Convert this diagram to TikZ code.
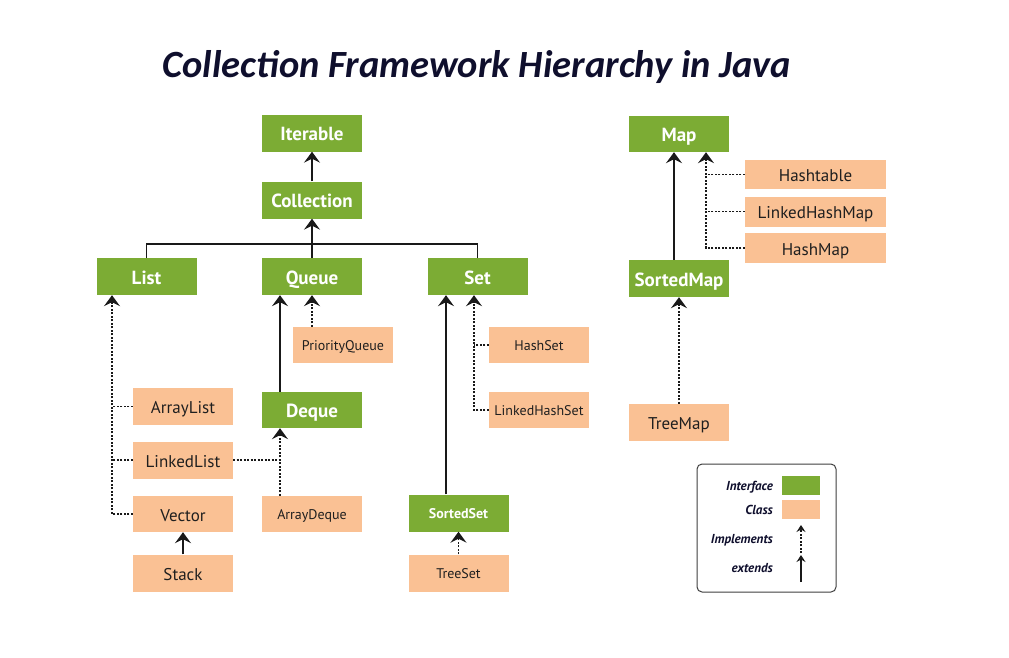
\documentclass[tikz,border=0pt]{standalone}
\usepackage{fontspec}
\setmainfont{PT Sans}
\newfontfamily\titlefont{Carlito}
\usetikzlibrary{arrows.meta}
\definecolor{igreen}{RGB}{124,172,52}
\definecolor{corange}{RGB}{250,193,148}
\definecolor{navy}{RGB}{15,15,45}
\definecolor{arrowc}{RGB}{25,25,25}
\begin{document}
\begin{tikzpicture}[x=1pt,y=-1pt,
 box/.style={minimum width=100pt, minimum height=37pt, inner sep=0pt},
 gbox/.style={box, fill=igreen, text=white, font=\bfseries\fontsize{19}{22}\selectfont, text height=19pt, text depth=3.6pt},
 obox/.style={box, fill=corange, text=black!88, font=\fontsize{17}{20}\selectfont, text height=17.5pt, text depth=3.3pt},
 small/.style={font=\fontsize{14}{16}\selectfont, text height=14.5pt, text depth=2.7pt},
 gsmall/.style={font=\bfseries\fontsize{14}{16}\selectfont, text height=14.5pt, text depth=2.7pt},
 ext/.style={line width=1.6pt, draw=arrowc, -{Stealth[length=11pt,width=16pt,inset=4pt]}},
 impl/.style={ext, dash pattern=on 2pt off 1.5pt},
 dotline/.style={line width=1.6pt, draw=arrowc, dash pattern=on 2pt off 1.5pt},
 solidline/.style={line width=1.6pt, draw=arrowc},
 lext/.style={line width=1.4pt, draw=arrowc, -{Stealth[length=7pt,width=9pt,inset=2.5pt]}},
 limpl/.style={lext, dash pattern=on 2pt off 1.5pt},
 leg/.style={font=\bfseries\itshape\fontsize{13}{15}\selectfont, text=navy, anchor=east, inner sep=0pt}]
\fill[white] (0,0) rectangle (1009,657);
\useasboundingbox (0,0) rectangle (1009,657);

\node[font=\titlefont\bfseries\itshape\fontsize{38.5}{44}\selectfont, text=navy] (title) at (477,67) {Collection Framework Hierarchy in Java};

% interfaces
\node[gbox] (iter) at (312,133) {Iterable};
\node[gbox] (coll) at (312,200) {Collection};
\node[gbox] (list) at (146.5,276.5) {List};
\node[gbox] (queue) at (312,276.5) {Queue};
\node[gbox] (set) at (477.5,276.5) {Set};
\node[gbox, minimum height=36pt] (deque) at (312,410) {Deque};
\node[gbox, gsmall] (sset) at (458.5,513) {SortedSet};
\node[gbox, minimum height=36pt] (map) at (679,134) {Map};
\node[gbox] (smap) at (679,278.5) {SortedMap};

% classes
\node[obox, small, minimum height=36pt] (pq) at (343,345) {PriorityQueue};
\node[obox] (alist) at (183,406.5) {ArrayList};
\node[obox] (llist) at (183,460) {LinkedList};
\node[obox, minimum height=36pt] (vector) at (183,514) {Vector};
\node[obox] (stack) at (183,573) {Stack};
\node[obox, small, minimum height=36pt] (adeque) at (312,514) {ArrayDeque};
\node[obox, small, minimum height=36pt] (hset) at (539,345) {HashSet};
\node[obox, small, minimum height=36pt] (lhset) at (539,410) {LinkedHashSet};
\node[obox, small] (tset) at (458.5,573) {TreeSet};
\node[obox, minimum width=141pt, minimum height=29pt] (htable) at (815.5,174.5) {Hashtable};
\node[obox, minimum width=141pt, minimum height=30pt] (lhmap) at (815.5,211.5) {LinkedHashMap};
\node[obox, minimum width=141pt, minimum height=30pt] (hmap) at (815.5,248) {HashMap};
\node[obox] (tmap) at (679,422.5) {TreeMap};

% Collection hierarchy
\draw[ext] (coll) -- (iter);
\coordinate (bus) at (312,244);
\draw[solidline] (list.north) |- (bus) -| (set.north);
\draw[solidline] (queue.north) -- (bus);
\draw[ext] (bus) -- (coll.south);

% Queue
\coordinate (dqx) at ([xshift=-32pt]deque.north);
\draw[ext] (dqx) -- (dqx |- queue.south);
\draw[impl] (pq.north -| queue.south) -- (queue.south);
\coordinate (adx) at ([xshift=-32pt]adeque.north);
\draw[impl] (adx) -- (adx |- deque.south);
\draw[dotline] (llist.east) -- (llist.east -| adx);

% List
\coordinate (lx) at ([xshift=-34.5pt]list.south);
\draw[impl] (vector.west) -| (lx);
\draw[dotline] (alist.west) -- (alist.west -| lx);
\draw[dotline] (llist.west) -- (llist.west -| lx);
\draw[ext] (stack) -- (vector);

% Set
\coordinate (ssx) at ([xshift=-12.5pt]sset.north);
\draw[ext] (ssx) -- (ssx |- set.south);
\coordinate (stx) at ([xshift=-3.5pt]set.south);
\draw[impl] (lhset.west) -| (stx);
\draw[dotline] (hset.west) -- (hset.west -| stx);
\draw[impl] (tset) -- (sset);

% Map
\coordinate (smx) at ([xshift=-5pt]smap.north);
\draw[ext] (smx) -- (smx |- map.south);
\coordinate (mx) at ([xshift=27pt]map.south);
\draw[impl] (hmap.west) -| (mx);
\draw[dotline] (htable.west) -- (htable.west -| mx);
\draw[dotline] (lhmap.west) -- (lhmap.west -| mx);
\draw[impl] (tmap) -- (smap);

% Legend
\draw[line width=1pt, draw=black!75, rounded corners=5pt] (697,464) rectangle (836,592);
\node[fill=igreen, minimum width=38pt, minimum height=19pt, inner sep=0pt] (lg) at (801,485.5) {};
\node[fill=corange, minimum width=38pt, minimum height=19pt, inner sep=0pt] (lo) at (801,509.5) {};
\node[leg] (tint) at (773,487) {Interface};
\node[leg] (tcls) at (773,510) {Class};
\node[leg] (timp) at (773,540) {Implements};
\node[leg] (text) at (773,568) {extends};
\coordinate (la1) at (801,553);
\coordinate (la2) at (801,525);
\draw[limpl] (la1) -- (la2);
\coordinate (lb1) at (801,582);
\coordinate (lb2) at (801,555);
\draw[lext] (lb1) -- (lb2);
\end{tikzpicture}
\end{document}
